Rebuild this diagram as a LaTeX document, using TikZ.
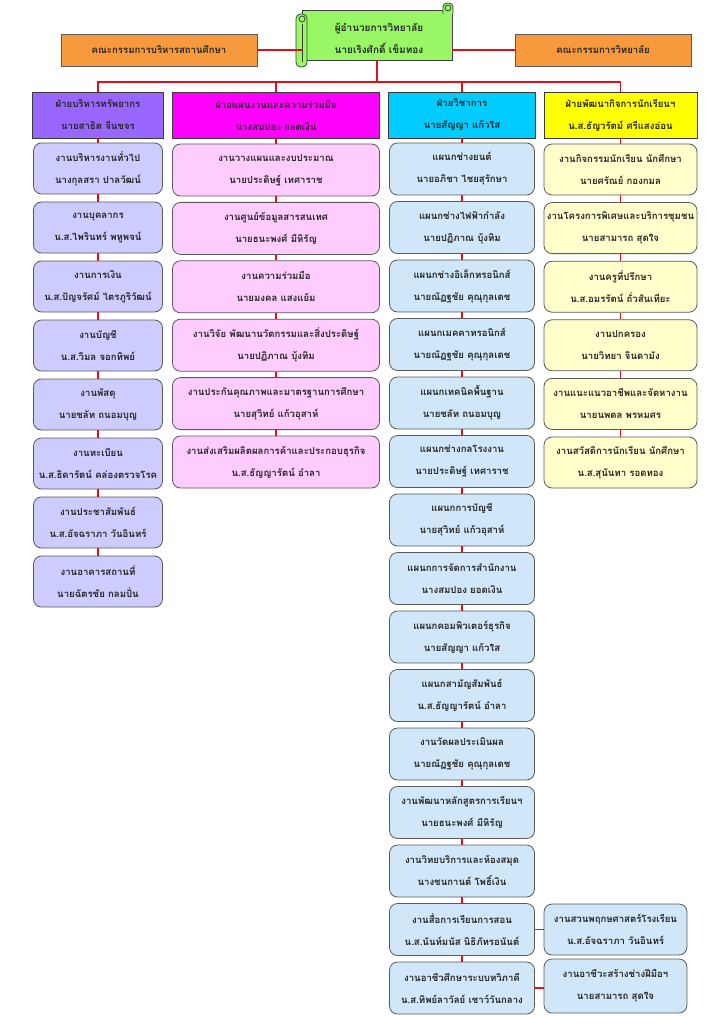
\documentclass[tikz,border=0pt]{standalone}
\usepackage{fontspec}
\newfontfamily\thaifont[Script=Thai]{Loma}
\definecolor{orangebox}{HTML}{F79A3E}
\definecolor{scrollgreen}{HTML}{99F766}
\definecolor{divpurple}{HTML}{9966FF}
\definecolor{divmag}{HTML}{FF00FF}
\definecolor{divcyan}{HTML}{00CCFF}
\definecolor{divyellow}{HTML}{FFFF00}
\definecolor{subpurple}{HTML}{CCCCFF}
\definecolor{submag}{HTML}{FFCCFF}
\definecolor{subcyan}{HTML}{CFE7F8}
\definecolor{subyellow}{HTML}{FFFFCC}
\definecolor{linered}{HTML}{E0101A}
\definecolor{subborder}{HTML}{5A5A5A}
\definecolor{divborder}{HTML}{3A3A3A}
\begin{document}
\begin{tikzpicture}[x=1pt,y=-1pt,
  base/.style={font=\thaifont\bfseries\fontsize{9.6}{22}\selectfont, text=black!85, align=center, inner sep=0pt, line width=0.8pt},
  topbox/.style={base, draw=subborder, fill=orangebox, minimum height=32pt},
  divbox/.style={base, draw=divborder, minimum height=46pt},
  subbox/.style={base, draw=subborder, rounded corners=8pt, minimum height=51pt},
  conn/.style={draw=linered, line width=1.4pt},
  scrollline/.style={draw=black!75, line width=0.8pt}]
\useasboundingbox[fill=white] (0,0) rectangle (724,1024);

\coordinate (hb) at (0,82);

% scroll body (director)
\node[base, draw=black!75, fill=scrollgreen, minimum width=150pt, minimum height=50pt] (dir) at (377,35) {};
\node[base, font=\thaifont\bfseries\fontsize{10}{22}\selectfont] (dirtext) at (379,38) {ผู้อำนวยการวิทยาลัย\\นายเริงศักดิ์  เข็มทอง};
% scroll curls
\filldraw[scrollline, fill=scrollgreen, rounded corners=4pt] (443,14) -- (443,3) -- (453,3) -- (453,14);
\draw[scrollline] (448,8) circle (3pt);
\filldraw[scrollline, fill=scrollgreen, rounded corners=4.5pt] (296,14) rectangle (307,67);
\draw[scrollline] (302,19) circle (3pt);
\draw[scrollline] (302,24) -- (302,62);

% committee boxes
\node[topbox, minimum width=196pt] (o1) at (159,50) {คณะกรรมการบริหารสถานศึกษา};
\node[topbox, minimum width=176pt] (o2) at (603,50) {คณะกรรมการวิทยาลัย};

% divisions
\node[divbox, fill=divpurple, minimum width=131pt] (d1) at (98,115) {ฝ่ายบริหารทรัพยากร\\นายสาธิต  จีนขจร};
\node[divbox, fill=divmag, minimum width=207pt] (d2) at (276,115) {ฝ่ายแผนงานและความร่วมมือ\\นางสมปอง  ยอดเงิน};
\node[divbox, fill=divcyan, minimum width=147pt] (d3) at (462,115) {ฝ่ายวิชาการ\\นายสัญญา  แก้วใส};
\node[divbox, fill=divyellow, minimum width=153pt] (d4) at (620.5,115) {ฝ่ายพัฒนากิจการนักเรียนฯ\\น.ส.ธัญวรัตม์ ศรีแสงอ่อน};

% purple column
\foreach \t [count=\i] in {
  {งานบริหารงานทั่วไป\\นางกุลสรา ปาลวัฒน์},
  {งานบุคลากร\\น.ส.ไพรินทร์ พหูพจน์},
  {งานการเงิน\\น.ส.ปัญจรัศม์ ไตรภูริวัฒน์},
  {งานบัญชี\\น.ส.วิมล จอกทิพย์},
  {งานพัสดุ\\นายชลัท  ถนอมบุญ},
  {งานทะเบียน\\น.ส.ธิดารัตน์ คล่องตรวจโรค},
  {งานประชาสัมพันธ์\\น.ส.อัจฉราภา วันอินทร์},
  {งานอาคารสถานที่\\นายฉัตรชัย  กลมปั่น}}
  \node[subbox, fill=subpurple, minimum width=129pt] (p\i) at (98,{168.5+59*(\i-1)}) {\t};

% magenta column
\foreach \t [count=\i] in {
  {งานวางแผนและงบประมาณ\\นายประดิษฐ์ เทศาราช},
  {งานศูนย์ข้อมูลสารสนเทศ\\นายธนะพงศ์ มีหิรัญ},
  {งานความร่วมมือ\\นายมงคล แสงแย้ม},
  {งานวิจัย พัฒนานวัตกรรมและสิ่งประดิษฐ์\\นายปฏิภาณ  บุ้งทิม},
  {งานประกันคุณภาพและมาตรฐานการศึกษา\\นายสุวิทย์  แก้วอุสาห์},
  {งานส่งเสริมผลิตผลการค้าและประกอบธุรกิจ\\น.ส.ธัญญารัตน์ อำลา}}
  \node[subbox, fill=submag, minimum width=207pt, minimum height=52pt] (m\i) at (276,{170+58.4*(\i-1)}) {\t};

% cyan column
\foreach \t [count=\i] in {
  {แผนกช่างยนต์\\นายอภิชา ไชยสุรักษา},
  {แผนกช่างไฟฟ้ากำลัง\\นายปฏิภาณ บุ้งทิม},
  {แผนกช่างอิเล็กทรอนิกส์\\นายณัฏฐชัย คุณุกุลเดช},
  {แผนกเมคคาทรอนิกส์\\นายณัฏฐชัย คุณุกุลเดช},
  {แผนกเทคนิคพื้นฐาน\\นายชลัท ถนอมบุญ},
  {แผนกช่างกลโรงงาน\\นายประดิษฐ์ เทศาราช},
  {แผนกการบัญชี\\นายสุวิทย์ แก้วอุสาห์},
  {แผนกการจัดการสำนักงาน\\นางสมปอง ยอดเงิน},
  {แผนกคอมพิวเตอร์ธุรกิจ\\นายสัญญา แก้วใส},
  {แผนกสามัญสัมพันธ์\\น.ส.ธัญญารัตน์  อำลา},
  {งานวัดผลประเมินผล\\นายณัฏฐชัย คุณุกุลเดช},
  {งานพัฒนาหลักสูตรการเรียนฯ\\นายธนะพงศ์ มีหิรัญ},
  {งานวิทยบริการและห้องสมุด\\นางชนกานต์ โพธิ์เงิน},
  {งานสื่อการเรียนการสอน\\น.ส.นันท์มนัส นิธิภัทรอนันต์},
  {งานอาชีวศึกษาระบบทวิภาคี\\น.ส.ทิพย์ลาวัลย์ เชาว์วันกลาง}}
  \node[subbox, fill=subcyan, minimum width=145pt, minimum height=52pt] (c\i) at (462,{169+58.5*(\i-1)}) {\t};

% extra boxes
\node[subbox, fill=subcyan, minimum width=143pt] (e1) at (615.5,929.5) {งานสวนพฤกษศาสตร์โรงเรียน\\น.ส.อัจฉราภา วันอินทร์};
\node[subbox, fill=subcyan, minimum width=143pt, minimum height=54pt] (e2) at (615.5,986) {งานอาชีวะสร้างช่างฝีมือฯ\\นายสามารถ สุดใจ};

% yellow column
\foreach \t [count=\i] in {
  {งานกิจกรรมนักเรียน นักศึกษา\\นายศรัณย์ กองกมล},
  {งานโครงการพิเศษและบริการชุมชน\\นายสามารถ สุดใจ},
  {งานครูที่ปรึกษา\\น.ส.อมรรัตน์ ถั่วสันเทียะ},
  {งานปกครอง\\นายวิทยา  จินดามัง},
  {งานแนะแนวอาชีพและจัดหางาน\\นายนพดล พรหมศร},
  {งานสวัสดิการนักเรียน นักศึกษา\\น.ส.สุนันทา รอดทอง}}
  \node[subbox, fill=subyellow, minimum width=153pt] (y\i) at (620.5,{169.5+58.6*(\i-1)}) {\t};

% connectors
\draw[conn] (o1.east) -- (o1.east -| dir.west);
\draw[conn] (o2.west) -- (o2.west -| dir.east);
\draw[conn] (dir.south) -- (dir.south |- hb);
\draw[conn] (d1.north) -- (d1.north |- hb) -- (d4.north |- hb) -- (d4.north);
\draw[conn] (d2.north) -- (d2.north |- hb);
\draw[conn] (d3.north) -- (d3.north |- hb);

\draw[conn] (d1.south) -- (p1.north);
\foreach \i [evaluate=\i as \j using int(\i+1)] in {1,...,7} \draw[conn] (p\i.south) -- (p\j.north);
\draw[conn] (d2.south) -- (m1.north);
\foreach \i [evaluate=\i as \j using int(\i+1)] in {1,...,5} \draw[conn] (m\i.south) -- (m\j.north);
\draw[conn] (d3.south) -- (c1.north);
\foreach \i [evaluate=\i as \j using int(\i+1)] in {1,...,14} \draw[conn] (c\i.south) -- (c\j.north);
\draw[conn] (d4.south) -- (y1.north);
\foreach \i [evaluate=\i as \j using int(\i+1)] in {1,...,5} \draw[conn] (y\i.south) -- (y\j.north);
\draw[conn] (c14.east) -- (c14.east -| e1.west);
\draw[conn] (c15.east) -- (c15.east -| e2.west);
\end{tikzpicture}
\end{document}
